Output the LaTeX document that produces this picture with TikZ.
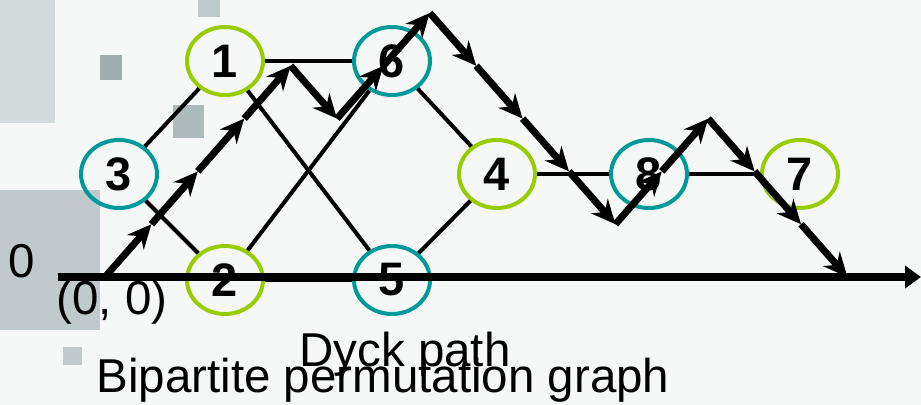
\documentclass[tikz,border=0pt]{standalone}
\usepackage{fontspec}
\setmainfont{Liberation Sans}
\usetikzlibrary{arrows.meta, shapes.geometric}
\definecolor{vertteal}{RGB}{0,153,153}
\definecolor{vertgreen}{RGB}{153,204,0}
\definecolor{slidebg}{RGB}{246,248,248}
\definecolor{tilelight}{RGB}{212,219,221}
\definecolor{tilemid}{RGB}{192,202,205}
\definecolor{tiledark}{RGB}{160,173,175}

\begin{document}
\begin{tikzpicture}[x=0.5pt, y=-0.5pt, >=Stealth,
    vert/.style={ellipse, draw, line width=2pt, minimum width=38pt, minimum height=34pt, inner sep=0pt, font=\fontsize{23.5}{23.5}\selectfont\bfseries},
    edge/.style={line width=2pt},
    dyck/.style={-{Stealth[length=12pt, width=11pt]}, line width=3.5pt},
    lbl/.style={inner sep=0pt, anchor=base, font=\fontsize{23.75}{28}\selectfont}]
    % Slide background with its grey tiles
    \fill[slidebg] (0,0) rectangle (921,405);
    \useasboundingbox (0,0) rectangle (921,405);
    \fill[tilelight] (0,0) rectangle (55,123);
    \fill[tilemid] (0,190) rectangle (100,330);
    \fill[tiledark] (100,55) rectangle (122,80);
    \fill[tiledark!85!white] (173,105) rectangle (204,138);
    \fill[tilemid] (198,0) rectangle (220,17);
    \fill[tilemid] (63,347) rectangle (82,365);

    % Vertices of the graph
    \node[vert, draw=vertteal] (n3) at (119,174) {3};
    \node[vert, draw=vertgreen] (n1) at (225,61) {1};
    \node[vert, draw=vertgreen] (n2) at (225,280) {2};
    \node[vert, draw=vertteal] (n6) at (392,61) {6};
    \node[vert, draw=vertteal] (n5) at (392,280) {5};
    \node[vert, draw=vertgreen] (n4) at (497,174) {4};
    \node[vert, draw=vertteal] (n8) at (649,174) {8};
    \node[vert, draw=vertgreen] (n7) at (800,174) {7};

    % Edges
    \draw[edge] (n3) -- (n1);
    \draw[edge] (n3) -- (n2);
    \draw[edge] (n1) -- (n6);
    \draw[edge] (n1) -- (n5);
    \draw[edge] (n2) -- (n6);
    \draw[edge] (n2) -- (n5);
    \draw[edge] (n6) -- (n4);
    \draw[edge] (n5) -- (n4);
    \draw[edge] (n4) -- (n8);
    \draw[edge] (n8) -- (n7);

    % Horizontal axis
    \coordinate (axstart) at (58,277);
    \coordinate (axend) at (921,277);
    \draw[line width=4pt, -{Triangle[length=8pt, width=11pt]}] (axstart) -- (axend);
    \node[lbl] (zero) at (22,278) {0};
    \node[lbl] (origin) at (112,315) {(0, 0)};

    % Dyck path: up 4, down 1, up 2, down 4, up 2, down 3
    \coordinate (d0) at (105,277);
    \coordinate (d1) at (151.4,224.2);
    \coordinate (d2) at (197.8,171.4);
    \coordinate (d3) at (244.2,118.6);
    \coordinate (d4) at (290.6,65.8);
    \coordinate (d5) at (337,118.6);
    \coordinate (d6) at (383.4,65.8);
    \coordinate (d7) at (429.8,13);
    \coordinate (d8) at (476.2,65.8);
    \coordinate (d9) at (522.6,118.6);
    \coordinate (d10) at (569,171.4);
    \coordinate (d11) at (615.4,224.2);
    \coordinate (d12) at (661.8,171.4);
    \coordinate (d13) at (708.2,118.6);
    \coordinate (d14) at (754.6,171.4);
    \coordinate (d15) at (801,224.2);
    \coordinate (d16) at (847.4,277);
    \draw[dyck] (d0) -- (d1);
    \draw[dyck] (d1) -- (d2);
    \draw[dyck] (d2) -- (d3);
    \draw[dyck] (d3) -- (d4);
    \draw[dyck] (d4) -- (d5);
    \draw[dyck] (d5) -- (d6);
    \draw[dyck] (d6) -- (d7);
    \draw[dyck] (d7) -- (d8);
    \draw[dyck] (d8) -- (d9);
    \draw[dyck] (d9) -- (d10);
    \draw[dyck] (d10) -- (d11);
    \draw[dyck] (d11) -- (d12);
    \draw[dyck] (d12) -- (d13);
    \draw[dyck] (d13) -- (d14);
    \draw[dyck] (d14) -- (d15);
    \draw[dyck] (d15) -- (d16);

    % Captions
    \node[lbl] (dyckcap) at (405,367) {Dyck path};
    \node[lbl] (graphcap) at (383,393) {Bipartite permutation graph};
\end{tikzpicture}
\end{document}
